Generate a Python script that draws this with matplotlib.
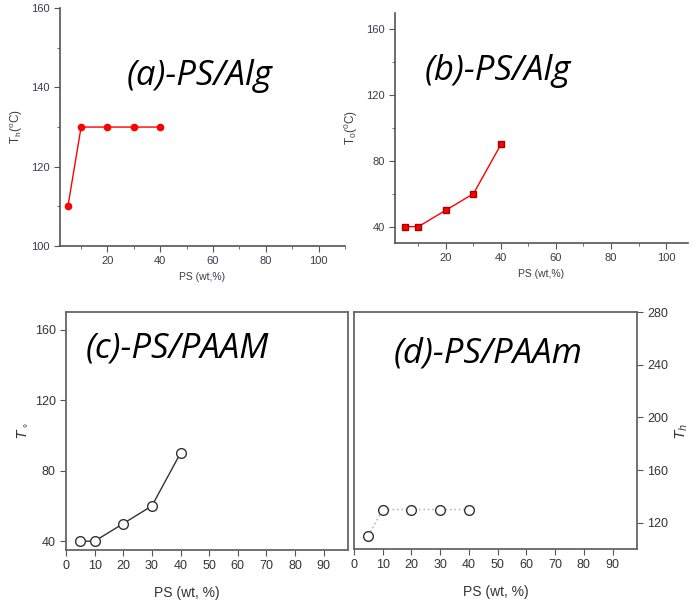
import matplotlib
matplotlib.use("Agg")
import matplotlib.pyplot as plt
from matplotlib.ticker import MultipleLocator

ps = [5, 10, 20, 30, 40]
th_alg = [110, 130, 130, 130, 130]
t0_alg = [40, 40, 50, 60, 90]
to_paam = [40, 40, 50, 60, 90]
th_paam = [110, 130, 130, 130, 130]

plt.rcParams['font.family'] = ['Liberation Sans', 'DejaVu Sans']
fig = plt.figure(figsize=(7, 6.1), dpi=100)

title_font = dict(family='Open Sans', style='italic', fontsize=25, color='black', va='baseline')
origin_col = '#3c3c4c'

# (a) top left
ax = fig.add_axes([0.0857, 0.5967, 0.407, 0.390])
ax.plot(ps, th_alg, color='red', lw=1, marker='o', ms=4.5, mfc='red', mec='red')
ax.set_xlim(2, 110)
ax.set_ylim(100, 160)
ax.xaxis.set_major_locator(MultipleLocator(20))
ax.xaxis.set_minor_locator(MultipleLocator(10))
ax.yaxis.set_major_locator(MultipleLocator(20))
ax.yaxis.set_minor_locator(MultipleLocator(10))
ax.set_ylabel('T$_\\mathregular{h}$($^\\mathregular{o}$C)', fontsize=8.5, color=origin_col)
ax.set_xlabel('PS (wt,%)', fontsize=7.5, color=origin_col)
ax.text(0.235, 0.676, '(a)-PS/Alg', transform=ax.transAxes, **title_font)

# (b) top right
bx = fig.add_axes([0.5643, 0.6016, 0.4186, 0.377])
bx.plot(ps, t0_alg, color='red', lw=1, marker='s', ms=4.5, mfc='red', mec='#aa0000')
bx.set_xlim(1.5, 108)
bx.set_ylim(30, 170)
bx.xaxis.set_major_locator(MultipleLocator(20))
bx.xaxis.set_minor_locator(MultipleLocator(10))
bx.yaxis.set_major_locator(MultipleLocator(40))
bx.yaxis.set_minor_locator(MultipleLocator(20))
bx.set_ylabel('T$_\\mathregular{0}$($^\\mathregular{0}$C)', fontsize=8.5, color=origin_col)
bx.set_xlabel('PS (wt,%)', fontsize=7.5, color=origin_col)
bx.text(0.1, 0.709, '(b)-PS/Alg', transform=bx.transAxes, **title_font)

for a in (ax, bx):
    a.spines['top'].set_visible(False)
    a.spines['right'].set_visible(False)
    for s in ('left', 'bottom'):
        a.spines[s].set_color('#555555')
        a.spines[s].set_linewidth(1.2)
    a.tick_params(which='both', direction='out', colors='#555555', labelcolor=origin_col, labelsize=8)
    a.tick_params(which='major', length=4)
    a.tick_params(which='minor', length=2.5)

# (c) bottom left
cx = fig.add_axes([0.0943, 0.0984, 0.4029, 0.390])
cx.plot(ps, to_paam, color='#333333', lw=1, marker='o', ms=7, mfc='white', mec='#333333', mew=1)
cx.set_xlim(0, 98.5)
cx.set_ylim(35, 170)
cx.set_xticks(range(0, 100, 10))
cx.set_yticks([40, 80, 120, 160])
cx.set_ylabel('$T_\\circ$', family='DejaVu Serif', fontsize=10, color='#333333')
cx.set_xlabel('PS (wt, %)', fontsize=10, color='#333333')
cx.xaxis.set_label_coords(0.43, -0.15)
cx.text(0.068, 0.807, '(c)-PS/PAAM', transform=cx.transAxes, **title_font)
cx.tick_params(direction='out', length=4, colors='#555555', labelcolor='#333333', labelsize=9)

# (d) bottom right
dx = fig.add_axes([0.5057, 0.1, 0.4043, 0.3885])
dx.plot(ps, th_paam, color='#bbbbbb', lw=1.2, ls=':', marker='o', ms=7, mfc='white', mec='#333333', mew=1)
dx.set_xlim(0, 98.5)
dx.set_ylim(100, 280)
dx.set_xticks(range(0, 100, 10))
dx.set_yticks([120, 160, 200, 240, 280])
dx.yaxis.tick_right()
dx.yaxis.set_label_position('right')
dx.set_ylabel('$T_h$', family='DejaVu Serif', fontsize=10, color='#333333')
dx.set_xlabel('PS (wt, %)', fontsize=10, color='#333333')
dx.xaxis.set_label_coords(0.5, -0.15)
dx.text(0.14, 0.789, '(d)-PS/PAAm', transform=dx.transAxes, **title_font)
dx.tick_params(direction='out', length=4, colors='#555555', labelcolor='#333333', labelsize=9)

for a in (cx, dx):
    for s in a.spines.values():
        s.set_color('#666666')
        s.set_linewidth(1.3)

fig.savefig('out.png', dpi=100)
